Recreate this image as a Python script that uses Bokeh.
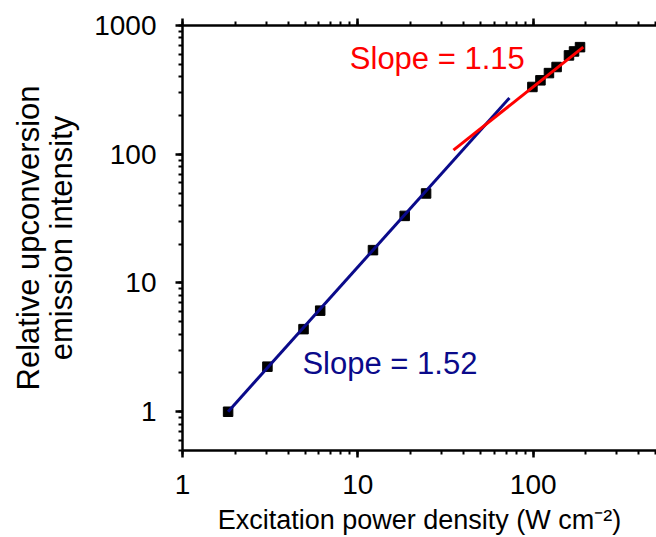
import numpy as np
from bokeh.plotting import figure
from bokeh.models import (LogAxis, Label, ColumnDataSource, LogTicker,
                          Range1d, CustomJSTickFormatter)
from bokeh.embed import file_html
from bokeh.resources import INLINE

# ---- data ----
power_density = [1.82, 3.05, 4.9, 6.1, 12.2, 18.5, 24.5, 99, 110, 123, 136, 160, 171, 185]
intensity = [1.0, 2.24, 4.38, 6.1, 18.0, 33.2, 49.6, 333, 375, 427, 476, 586, 629, 679]

fit_low_x = [1.82, 73.2]
fit_low_y = [1.0, 274.0]
fit_high_x = [35.1, 193.0]
fit_high_y = [107.6, 679.0]

x_tick_values = [1, 10, 100]
x_tick_labels = ["1", "10", "100"]
y_tick_values = [1, 10, 100, 1000]
y_tick_labels = ["1", "10", "100", "1000"]

x_title = "Excitation power density (W cm\u207b\u00b2)"
y_title = "Relative upconversion\nemission intensity"
slope_low_text = "Slope = 1.52"
slope_high_text = "Slope = 1.15"

FONT = "Liberation Sans"
BLUE = "#0a0a8a"
RED = "#ff0000"

p = figure(width=656, height=537, x_axis_type="log", y_axis_type="log",
           x_range=Range1d(1, 505), y_range=Range1d(0.5, 1000),
           output_backend="svg", toolbar_location=None,
           min_border_left=182, min_border_right=0, min_border_top=25, min_border_bottom=86)
p.outline_line_color = None
p.grid.visible = False
p.background_fill_color = "white"
p.border_fill_color = "white"

src = ColumnDataSource(dict(x=power_density, y=intensity))
p.scatter("x", "y", source=src, marker="square", size=9.5, fill_color="black", line_color="black")
p.line(fit_low_x, fit_low_y, line_color=BLUE, line_width=3)
p.line(fit_high_x, fit_high_y, line_color=RED, line_width=3)

def style_axis(ax):
    ax.axis_line_width = 2.5
    ax.axis_line_color = "black"
    ax.major_tick_line_width = 2.5
    ax.minor_tick_line_width = 2
    ax.major_tick_in = 0
    ax.major_tick_out = 7
    ax.minor_tick_in = 0
    ax.minor_tick_out = 4
    ax.major_label_text_font = FONT
    ax.major_label_text_color = "black"
    ax.axis_label_text_font = FONT
    ax.axis_label_text_font_style = "normal"
    ax.axis_label_text_color = "black"

def label_formatter(values, labels):
    return CustomJSTickFormatter(
        args=dict(vals=values, labs=labels),
        code="""
        for (let i = 0; i < vals.length; i++) {
            if (Math.abs(Math.log10(tick) - Math.log10(vals[i])) < 1e-6) return labs[i];
        }
        return String(tick);
        """)

xa = p.xaxis[0]
style_axis(xa)
xa.ticker = LogTicker(num_minor_ticks=10)
xa.formatter = label_formatter(x_tick_values, x_tick_labels)
xa.major_label_text_font_size = "28px"
xa.major_label_standoff = 17
xa.axis_label = x_title
xa.axis_label_text_font_size = "27px"
xa.axis_label_standoff = 8

ya = p.yaxis[0]
style_axis(ya)
ya.ticker = LogTicker(num_minor_ticks=10)
ya.formatter = label_formatter(y_tick_values, y_tick_labels)
ya.major_label_text_font_size = "28px"
ya.major_label_standoff = 19
ya.axis_label = y_title
ya.axis_label_text_font_size = "31px"
ya.axis_label_text_line_height = 0.95
ya.axis_label_standoff = 12

top = LogAxis(ticker=LogTicker(num_minor_ticks=10))
style_axis(top)
top.formatter = CustomJSTickFormatter(code="return ''")
top.major_label_text_font_size = "10px"
top.major_label_text_color = None
top.major_label_standoff = 0
p.add_layout(top, "above")

p.add_layout(Label(x=9.0, y=556, text=slope_high_text, text_color=RED,
                   text_font=FONT, text_font_size="31px",
                   text_align="left", text_baseline="alphabetic"))
p.add_layout(Label(x=4.83, y=2.35, text=slope_low_text, text_color=BLUE,
                   text_font=FONT, text_font_size="31px",
                   text_align="left", text_baseline="alphabetic"))

open("out.html", "w").write(file_html(p, INLINE))
